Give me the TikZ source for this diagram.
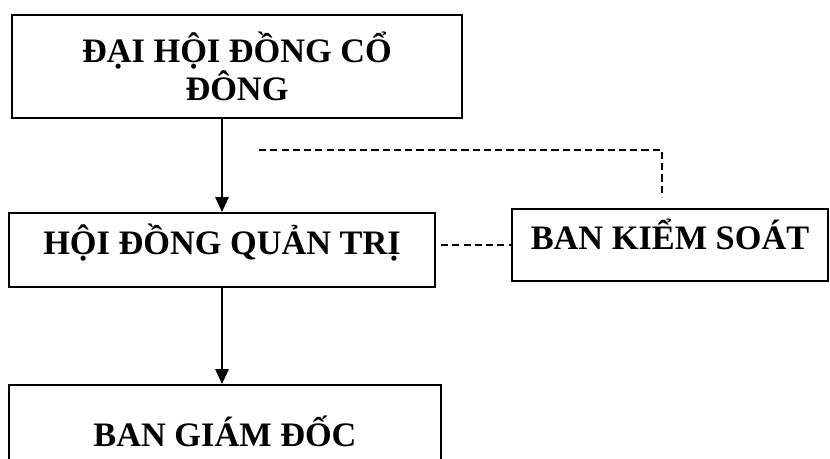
\documentclass[tikz,border=0pt]{standalone}
\usepackage{fontspec}
\setmainfont{Liberation Serif}
\usetikzlibrary{arrows.meta,calc}

\tikzset{
  box/.style={draw, line width=1.4pt, inner sep=0pt, align=center,
    font=\bfseries\fontsize{24.4}{25}\selectfont},
  oneline/.style={text height=0.676em, text depth=0pt},
  arr/.style={line width=1.4pt, -{Triangle[length=0.37cm,width=0.33cm]}},
  dline/.style={line width=1pt, dash pattern=on 5pt off 3pt},
}

\begin{document}
\begin{tikzpicture}[x=0.025cm,y=-0.025cm]
				\useasboundingbox (0,0) rectangle (830,459);

				\node[box, minimum width=11.25cm, minimum height=2.575cm] (dhdcd) at (237,66.5) {ĐẠI HỘI ĐỒNG CỔ\\ĐÔNG};
				\node[box, oneline, minimum width=10.65cm, minimum height=1.85cm] (hdqt) at (222,250) {HỘI ĐỒNG QUẢN TRỊ};
				\node[box, oneline, minimum width=7.9cm, minimum height=1.8cm] (bks) at (670,245) {BAN KIỂM SOÁT};
				\node[box, oneline, minimum width=10.8cm, minimum height=2.825cm] (bgd) at (225,441.5) {BAN GIÁM ĐỐC};

				\draw [arr] (dhdcd.south -| hdqt.north) -- (hdqt.north);
				\draw [arr] (hdqt.south) -- (hdqt.south |- bgd.north);

				\coordinate (ks left) at (259,150);
				\coordinate (ks bend) at (662,150);
				\coordinate (ks end) at (662,197);
				\draw [dline] (ks left) -- (ks bend) -- (ks end);
				\draw [dline] ($(hdqt.east |- bks.west)+(5,0)$) -- (bks.west);
			\end{tikzpicture}
\end{document}
